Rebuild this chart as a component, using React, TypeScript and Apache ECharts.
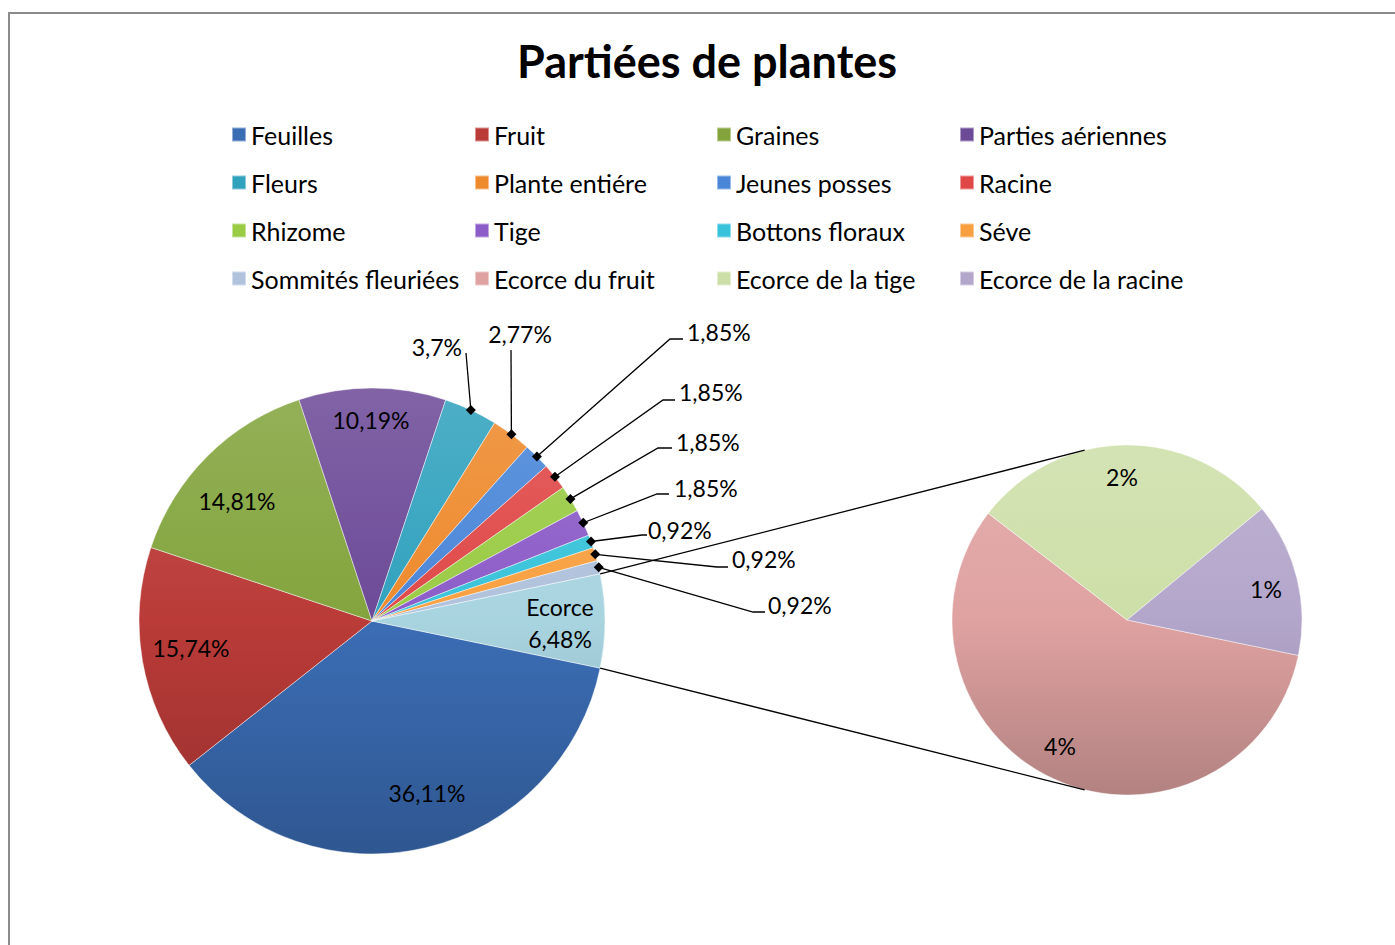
import React, { useEffect, useRef } from "react";
import * as echarts from "echarts";

// ---- Data ----
const mainNames = [
  "Feuilles", "Fruit", "Graines", "Parties aériennes", "Fleurs", "Plante entiére",
  "Jeunes posses", "Racine", "Rhizome", "Tige", "Bottons floraux", "Séve",
  "Sommités fleuriées", "Ecorce",
];
const mainValues = [36.11, 15.74, 14.81, 10.19, 3.7, 2.77, 1.85, 1.85, 1.85, 1.85, 0.92, 0.92, 0.92, 6.48];
const subNames = ["Ecorce du fruit", "Ecorce de la tige", "Ecorce de la racine"];
const subValues = [3.7, 1.85, 0.92];
const legendNames = [
  "Feuilles", "Fruit", "Graines", "Parties aériennes",
  "Fleurs", "Plante entiére", "Jeunes posses", "Racine",
  "Rhizome", "Tige", "Bottons floraux", "Séve",
  "Sommités fleuriées", "Ecorce du fruit", "Ecorce de la tige", "Ecorce de la racine",
];
const titleText = "Partiées de plantes";

// ---- Styles ----
const mainColors = [
  "#3B6DB5", "#BA3B38", "#83A43D", "#6C4A98", "#31A2BE", "#EE8A2C",
  "#4A86D8", "#E04848", "#9ACB45", "#8C5CC8", "#38C3DA", "#F8A040",
  "#B0C2DC", "#A8D4E0",
];
const subColors = ["#DFA2A1", "#CDDFA8", "#B3A6CB"];
const colorByName: Record<string, string> = {};
mainNames.forEach((n, i) => (colorByName[n] = mainColors[i]));
subNames.forEach((n, i) => (colorByName[n] = subColors[i]));

const MAIN = { cx: 372, cy: 621, r: 233 };
const SUB = { cx: 1127, cy: 620, r: 175 };
const FONT = "Lato";
const FS = 23;
const LEG_FS = 25;
const legendCols = [231, 474, 716, 959];

// label anchors: [x, y, align, bend?, end?]
const mainLabelPos: any[] = [
  [427, 793, "center"],
  [191, 648, "center"],
  [237, 501, "center"],
  [371, 420, "center"],
  [462, 347, "right", [466, 353], [466, 353]],
  [520, 334, "center", [511, 350], [511, 350]],
  [687, 332, "left", [670, 339], [683, 339]],
  [679, 392, "left", [663, 400], [675, 400]],
  [676, 442, "left", [658, 448], [672, 448]],
  [674, 488, "left", [657, 494], [669, 494]],
  [648, 530, "left", [642, 535], [647, 535]],
  [732, 559, "left", [717, 567], [728, 567]],
  [768, 605, "left", [753, 612], [765, 612]],
  [560, 623, "center"],
];
const subLabelPos: any[] = [
  [1060, 746],
  [1122, 477],
  [1266, 589],
];

function mix(hex: string, target: number, t: number) {
  const n = parseInt(hex.slice(1), 16);
  const r = (n >> 16) & 255, g = (n >> 8) & 255, b = n & 255;
  const f = (c: number) => Math.round(c + (target - c) * t);
  return `rgb(${f(r)},${f(g)},${f(b)})`;
}

function grad(c: string, geo: { cx: number; cy: number; r: number }) {
  return new echarts.graphic.LinearGradient(
    geo.cx, geo.cy - geo.r, geo.cx, geo.cy + geo.r,
    [
      { offset: 0, color: mix(c, 255, 0.14) },
      { offset: 0.5, color: c },
      { offset: 1, color: mix(c, 0, 0.2) },
    ],
    true
  );
}

const total = mainValues.reduce((a, b) => a + b, 0);
const otherSpan = (mainValues[mainValues.length - 1] / total) * 360;
const mainStart = -otherSpan / 2;

function edgePoint(i: number) {
  let cum = 0;
  for (let k = 0; k < i; k++) cum += mainValues[k];
  const ang = mainStart - ((cum + mainValues[i] / 2) / total) * 360;
  const rad = (ang * Math.PI) / 180;
  return [MAIN.cx + MAIN.r * Math.cos(rad), MAIN.cy - MAIN.r * Math.sin(rad)];
}
function mainEdgeAt(deg: number) {
  const rad = (deg * Math.PI) / 180;
  return [MAIN.cx + MAIN.r * Math.cos(rad), MAIN.cy - MAIN.r * Math.sin(rad)];
}
function subEdgeAt(deg: number) {
  const rad = (deg * Math.PI) / 180;
  return [SUB.cx + SUB.r * Math.cos(rad), SUB.cy - SUB.r * Math.sin(rad)];
}

const fmt = (v: number) => String(v).replace(".", ",") + "%";

export default function App() {
  const ref = useRef<HTMLDivElement>(null);
  useEffect(() => {
    if (!ref.current) return;
    const chart = echarts.init(ref.current, null, { renderer: "svg" });

    const mainData = mainNames.map((n, i) => {
      const inside = mainLabelPos[i].length === 3;
      return {
        name: n,
        value: mainValues[i],
        itemStyle: { color: grad(mainColors[i], MAIN) },
        label: { position: inside ? "inside" : "outside" },
        labelLine: { show: !inside },
      };
    });
    const subData = subNames.map((n, i) => ({
      name: n,
      value: subValues[i],
      itemStyle: { color: grad(subColors[i], SUB) },
    }));

    const diamonds: any[] = [];
    for (let i = 0; i < mainValues.length; i++) {
      if (mainLabelPos[i].length === 3) continue;
      const [x, y] = edgePoint(i);
      const d = 5;
      diamonds.push({
        type: "polygon",
        z: 100,
        shape: { points: [[x, y - d], [x + d, y], [x, y + d], [x - d, y]] },
        style: { fill: "#000" },
      });
    }
    const a1 = mainEdgeAt(otherSpan / 2);
    const a2 = mainEdgeAt(-otherSpan / 2);
    const b1 = subEdgeAt(104);
    const b2 = subEdgeAt(-104);

    const legends = legendCols.map((x, j) => ({
      data: legendNames
        .filter((_, k) => k % 4 === j)
        .map((n) => ({ name: n, itemStyle: { color: colorByName[n] } })),
      orient: "vertical",
      left: x,
      top: 122,
      padding: 0,
      itemGap: 23,
      itemWidth: 14,
      itemHeight: 14,
      icon: "rect",
      selectedMode: false,
      textStyle: { fontFamily: FONT, fontSize: LEG_FS, color: "#000" },
    }));

    chart.setOption({
      animation: false,
      backgroundColor: "#fff",
      title: {
        text: titleText,
        left: 517,
        top: 38,
        padding: 0,
        textStyle: { fontFamily: FONT, fontWeight: "bold", fontSize: 45, color: "#000" },
      },
      legend: legends,
      graphic: [
        {
          type: "rect",
          z: -10,
          shape: { x: 9, y: 13, width: 1500, height: 1000 },
          style: { fill: "none", stroke: "#8c8c8c", lineWidth: 2 },
        },
        { type: "line", z: 50, shape: { x1: a1[0], y1: a1[1], x2: b1[0], y2: b1[1] }, style: { stroke: "#000", lineWidth: 1.3 } },
        { type: "line", z: 50, shape: { x1: a2[0], y1: a2[1], x2: b2[0], y2: b2[1] }, style: { stroke: "#000", lineWidth: 1.3 } },
        ...diamonds,
      ],
      series: [
        {
          type: "pie",
          center: [MAIN.cx, MAIN.cy],
          radius: MAIN.r,
          startAngle: mainStart,
          clockwise: true,
          avoidLabelOverlap: false,
          minShowLabelAngle: 0,
          itemStyle: { borderColor: "rgba(255,255,255,0.45)", borderWidth: 1 },
          label: {
            show: true,
            fontFamily: FONT,
            fontSize: FS,
            color: "#000",
            lineHeight: 32,
            formatter: (p: any) =>
              p.dataIndex === mainNames.length - 1 ? `${p.name}\n${fmt(p.value)}` : fmt(p.value),
          },
          labelLine: { show: true, lineStyle: { color: "#000", width: 1.3 } },
          labelLayout: (p: any) => {
            const pos = mainLabelPos[p.dataIndex];
            const res: any = { x: pos[0], y: pos[1], align: pos[2], verticalAlign: "middle" };
            if (pos.length > 3) res.labelLinePoints = [edgePoint(p.dataIndex), pos[3], pos[4]];
            return res;
          },
          emphasis: { disabled: true },
          data: mainData,
        },
        {
          type: "pie",
          center: [SUB.cx, SUB.cy],
          radius: SUB.r,
          startAngle: mainStart,
          clockwise: true,
          avoidLabelOverlap: false,
          itemStyle: { borderColor: "rgba(255,255,255,0.45)", borderWidth: 1 },
          label: {
            show: true,
            position: "inside",
            fontFamily: FONT,
            fontSize: FS,
            color: "#000",
            formatter: (p: any) => Math.round(p.value) + "%",
          },
          labelLine: { show: false },
          labelLayout: (p: any) => {
            const pos = subLabelPos[p.dataIndex];
            return { x: pos[0], y: pos[1], align: "center", verticalAlign: "middle" };
          },
          emphasis: { disabled: true },
          data: subData,
        },
      ],
    });
    return () => chart.dispose();
  }, []);
  return (
    <div style={{ position: "fixed", left: 0, top: 0, width: 1395, height: 945, background: "#fff" }}>
      <div ref={ref} style={{ width: 1395, height: 945 }} />
    </div>
  );
}
